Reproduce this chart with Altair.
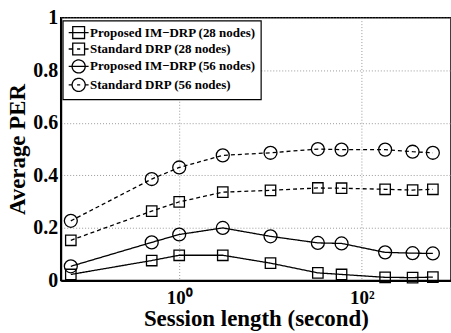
import altair as alt
import pandas as pd

x_vals = [0.065, 0.5, 1, 3, 10, 33, 60, 180, 360, 600]
series = ["Proposed IM−DRP (28 nodes)", "Standard DRP (28 nodes)",
          "Proposed IM−DRP (56 nodes)", "Standard DRP (56 nodes)"]
p28 = [0.023, 0.076, 0.096, 0.096, 0.066, 0.029, 0.023, 0.012, 0.011, 0.013]
s28 = [0.153, 0.264, 0.299, 0.336, 0.343, 0.352, 0.351, 0.347, 0.344, 0.347]
p56 = [0.054, 0.145, 0.175, 0.200, 0.168, 0.143, 0.141, 0.107, 0.104, 0.103]
s56 = [0.227, 0.386, 0.430, 0.476, 0.486, 0.500, 0.498, 0.498, 0.490, 0.486]
marker = ["square", "square", "circle", "circle"]
style = ["solid", "dashed", "solid", "dashed"]

rows = []
for name, vals, mk, st in zip(series, [p28, s28, p56, s56], marker, style):
    for xv, yv in zip(x_vals, vals):
        rows.append({"x": xv, "y": yv, "series": name, "marker": mk, "style": st})
df = pd.DataFrame(rows)

FONT = "Liberation Serif"

legend_paths = [
    "M-1.6,0L1.6,0M-0.95,-0.95L0.95,-0.95L0.95,0.95L-0.95,0.95Z",
    "M-1.6,0L-0.95,0M-0.25,0L0.25,0M0.95,0L1.6,0M-0.95,-0.95L0.95,-0.95L0.95,0.95L-0.95,0.95Z",
    "M-1.6,0L1.6,0M1.05,0A1.05,1.05,0,1,1,-1.05,0A1.05,1.05,0,1,1,1.05,0",
    "M-1.6,0L-1.05,0M-0.25,0L0.25,0M1.05,0L1.6,0M1.05,0A1.05,1.05,0,1,1,-1.05,0A1.05,1.05,0,1,1,1.05,0",
]
shape_expr = "[" + ",".join("'" + p + "'" for p in legend_paths) + "][datum.index]"

xenc = alt.X("x:Q", scale=alt.Scale(type="log", domain=[0.0504, 948], nice=False),
             axis=alt.Axis(values=[1, 100],
                           labelExpr="datum.value == 1 ? '10⁰' : '10²'",
                           title="Session length (second)", grid=True,
                           labelFontSize=19, titleFontSize=23, labelPadding=8,
                           titlePadding=0))
yenc = alt.Y("y:Q", scale=alt.Scale(domain=[0, 1], nice=False),
             axis=alt.Axis(values=[0, 0.2, 0.4, 0.6, 0.8, 1], format="~g",
                           title="Average PER", grid=True,
                           labelFontSize=20, titleFontSize=23, labelPadding=3,
                           titlePadding=3))

legend = alt.Legend(title=None, orient="none", legendX=2, legendY=3,
                    padding=5, symbolOffset=4, labelOffset=4.5,
                    rowPadding=-1.5, symbolSize=156, labelLimit=0,
                    symbolType=alt.ExprRef(expr=shape_expr),
                    symbolStrokeWidth=1.3, symbolDash=[1, 0],
                    symbolFillColor="transparent",
                    labelFont=FONT, labelFontWeight="bold",
                    labelFontSize=13, labelColor="black",
                    strokeColor="black", fillColor="white")

color = alt.Color("series:N", scale=alt.Scale(domain=series, range=["black"] * 4),
                  legend=legend)

base = alt.Chart(df)

solid_lines = base.transform_filter(alt.datum.style == "solid").mark_line(
    strokeWidth=1.3, strokeDash=[1, 0]
).encode(x=xenc, y=yenc, color=color)

dashed_lines = base.transform_filter(alt.datum.style == "dashed").mark_line(
    strokeWidth=1.3, strokeDash=[4, 3]
).encode(x=xenc, y=yenc, color=color)

squares = base.transform_filter(alt.datum.marker == "square").mark_point(
    shape="square", size=110, filled=False, color="black", strokeWidth=1.3, opacity=1
).encode(x=xenc, y=yenc)

circles = base.transform_filter(alt.datum.marker == "circle").mark_point(
    shape="circle", size=169, filled=False, color="black", strokeWidth=1.3, opacity=1
).encode(x=xenc, y=yenc)

chart = alt.layer(solid_lines, dashed_lines, squares, circles).properties(
    width=392, height=264,
    autosize=alt.AutoSizeParams(type="none"),
    padding={"left": 61, "top": 17, "right": 0, "bottom": 52},
).configure_view(stroke="black", strokeWidth=1.5).configure_axis(
    labelFont=FONT, titleFont=FONT, labelFontWeight="bold", titleFontWeight="bold",
    labelColor="black", titleColor="black", domainColor="black", domainWidth=2,
    ticks=False, gridColor="#999999", gridDash=[1, 2], gridWidth=1,
).configure_legend(strokeWidth=1.2)

chart.save("out.html", embed_options={"renderer": "svg", "actions": False})
